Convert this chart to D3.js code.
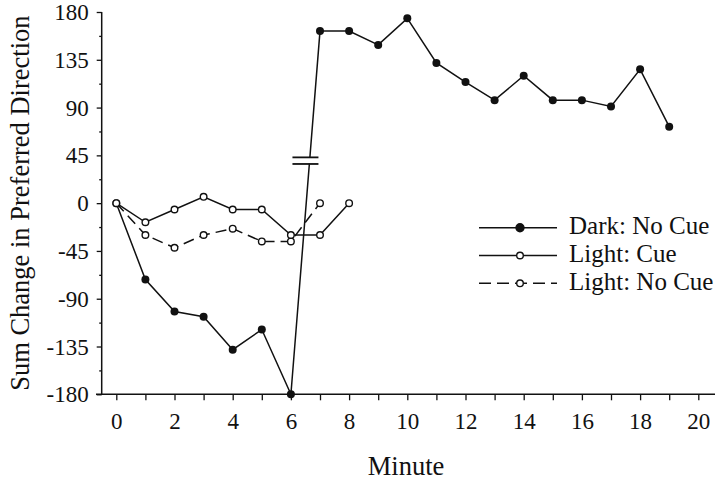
<!DOCTYPE html>
<html>
<head>
<meta charset="utf-8">
<script src="https://cdn.jsdelivr.net/npm/d3@7"></script>
<style>
  body { margin: 0; background: #fff; }
  svg { display: block; }
  text { font-family: "Liberation Serif", "Times New Roman", Times, serif; fill: #111; }
</style>
</head>
<body>
<svg id="chart" width="720" height="480"></svg>
<script>
// ---- data ----
const minutesDark = [0,1,2,3,4,5,6,7,8,9,10,11,12,13,14,15,16,17,18,19];
const darkNoCue   = [0,-72,-102,-107,-138,-119,-180,162,162,149,174,132,114,97,120,97,97,91,126,72];
const minutesLightCue = [0,1,2,3,4,5,6,7,8];
const lightCue    = [0,-18,-6,6,-6,-6,-30,-30,0];
const minutesLightNoCue = [0,1,2,3,4,5,6,7];
const lightNoCue  = [0,-30,-42,-30,-24,-36,-36,0];
const yTickValues = [-180,-135,-90,-45,0,45,90,135,180];
const xTickLabels = [0,2,4,6,8,10,12,14,16,18,20];
const seriesNames = ["Dark: No Cue","Light: Cue","Light: No Cue"];
const breakMinute = 6.5;   // location of axis-break mark on the 6->7 segment
const breakValue = 40;

const svg = d3.select("#chart");
const x = d3.scaleLinear().domain([0,20]).range([116.3, 698.3]);
const y = d3.scaleLinear().domain([-180,180]).range([394.3, 12]);

const ink = "#111";
const serif = '"Liberation Serif", "Times New Roman", Times, serif';

// ---- axes ----
const minorY = d3.range(-180, 180.1, 22.5);
const yAxis = svg.append("g").attr("transform","translate(101.7,0)")
  .call(d3.axisLeft(y).tickValues(minorY).tickSize(5)
        .tickFormat(d => yTickValues.includes(d) ? d : ""));
yAxis.select(".domain").remove();
yAxis.selectAll(".tick line").attr("stroke", ink).attr("stroke-width",1.3)
  .attr("x2", d => yTickValues.includes(d) ? -5 : -2.5);
yAxis.selectAll(".tick text").attr("x",-13).attr("font-size",23)
  .attr("font-family",serif).attr("fill",ink).attr("dy","0.33em");
svg.append("line").attr("x1",101.7).attr("x2",101.7).attr("y1",y(180)).attr("y2",y(-180))
  .attr("stroke",ink).attr("stroke-width",1.5);

const xAxis = svg.append("g").attr("transform",`translate(0,${y(-180)})`)
  .call(d3.axisBottom(x).tickValues(d3.range(0,21,1)).tickSize(6)
        .tickFormat(d => xTickLabels.includes(d) ? d : ""));
xAxis.select(".domain").remove();
xAxis.selectAll(".tick line").attr("stroke", ink).attr("stroke-width",1.3);
xAxis.selectAll(".tick text").attr("y",18).attr("font-size",23)
  .attr("font-family",serif).attr("fill",ink);
svg.append("line").attr("x1",96).attr("x2",715).attr("y1",y(-180)).attr("y2",y(-180))
  .attr("stroke",ink).attr("stroke-width",1.5);

// axis titles
svg.append("text").attr("x",406).attr("y",475).attr("text-anchor","middle")
  .attr("font-size",26.5).text("Minute");
svg.append("text").attr("transform",`translate(29,${(y(180)+y(-180))/2}) rotate(-90)`)
  .attr("text-anchor","middle").attr("font-size",26.5)
  .text("Sum Change in Preferred Direction");

// ---- lines ----
const line = d3.line().x(d => x(d[0])).y(d => y(d[1]));
const dark = minutesDark.map((m,i) => [m, darkNoCue[i]]);
const lc = minutesLightCue.map((m,i) => [m, lightCue[i]]);
const lnc = minutesLightNoCue.map((m,i) => [m, lightNoCue[i]]);

svg.append("path").datum(lnc).attr("d", line).attr("fill","none")
  .attr("stroke",ink).attr("stroke-width",1.5).attr("stroke-dasharray","11,6");
svg.append("path").datum(lc).attr("d", line).attr("fill","none")
  .attr("stroke",ink).attr("stroke-width",1.5);
svg.append("path").datum(dark).attr("d", line).attr("fill","none")
  .attr("stroke",ink).attr("stroke-width",1.5);

// break mark
const bx = x(breakMinute), by = y(breakValue);
svg.append("rect").attr("x",bx-8).attr("y",by-3).attr("width",16).attr("height",6).attr("fill","#fff");
[-3.3, 3.3].forEach(o => svg.append("line")
  .attr("x1",bx-13).attr("x2",bx+13).attr("y1",by+o).attr("y2",by+o)
  .attr("stroke",ink).attr("stroke-width",1.8));

// markers
svg.append("g").selectAll("circle").data(lnc).join("circle")
  .attr("cx",d=>x(d[0])).attr("cy",d=>y(d[1])).attr("r",3.3)
  .attr("fill","#fff").attr("stroke",ink).attr("stroke-width",1.4);
svg.append("g").selectAll("circle").data(lc).join("circle")
  .attr("cx",d=>x(d[0])).attr("cy",d=>y(d[1])).attr("r",3.3)
  .attr("fill","#fff").attr("stroke",ink).attr("stroke-width",1.4);
svg.append("g").selectAll("circle").data(dark.slice(1)).join("circle")
  .attr("cx",d=>x(d[0])).attr("cy",d=>y(d[1])).attr("r",4)
  .attr("fill",ink);

// ---- legend ----
const legendRows = [
  {name: seriesNames[0], dash: null, filled: true},
  {name: seriesNames[1], dash: null, filled: false},
  {name: seriesNames[2], dash: "12,6", filled: false}
];
const lg = svg.append("g");
legendRows.forEach((r,i) => {
  const ly = 227.7 + i*27.8;
  lg.append("line").attr("x1",479).attr("x2",557).attr("y1",ly).attr("y2",ly)
    .attr("stroke",ink).attr("stroke-width",1.5).attr("stroke-dasharray", r.dash);
  lg.append("circle").attr("cx",520).attr("cy",ly).attr("r", r.filled ? 4 : 3.3)
    .attr("fill", r.filled ? ink : "#fff").attr("stroke",ink).attr("stroke-width",1.4);
  lg.append("text").attr("x",569).attr("y",ly+6.5).attr("font-size",25).text(r.name);
});
</script>
</body>
</html>
